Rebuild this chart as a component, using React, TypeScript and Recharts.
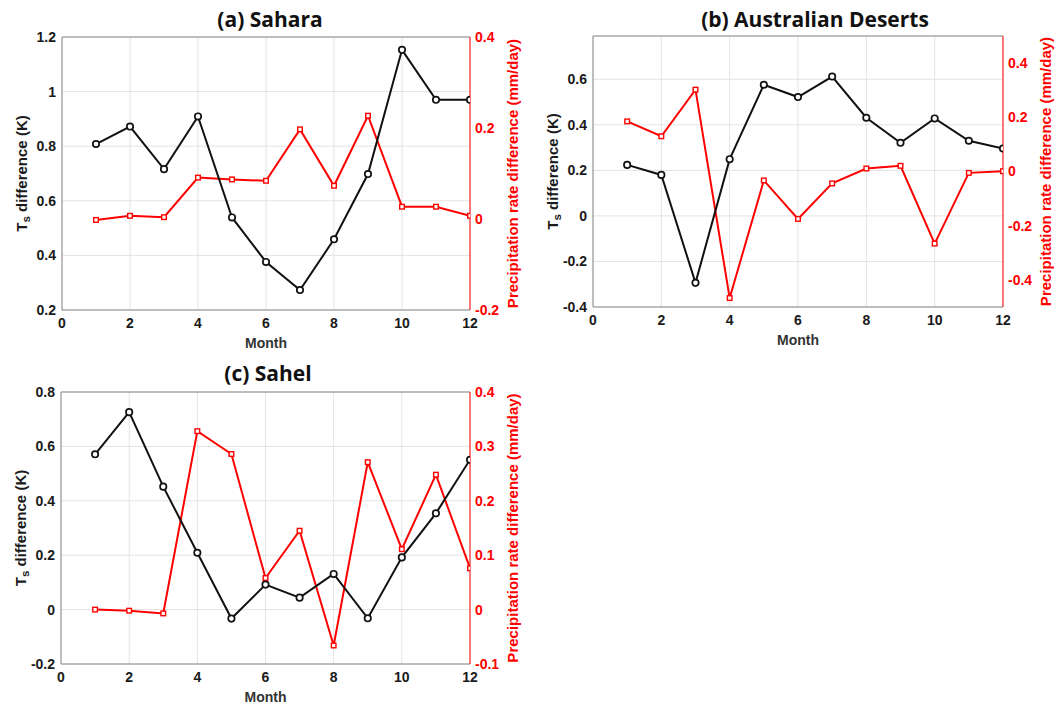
import React from 'react';
import { LineChart, Line, XAxis, YAxis, CartesianGrid, ReferenceLine } from 'recharts';

const months = [1, 2, 3, 4, 5, 6, 7, 8, 9, 10, 11, 12];
const monthTicks = [0, 2, 4, 6, 8, 10, 12];

const saharaTs = [0.808, 0.872, 0.716, 0.909, 0.539, 0.376, 0.273, 0.459, 0.698, 1.153, 0.97, 0.97];
const saharaPr = [-0.002, 0.007, 0.004, 0.091, 0.087, 0.084, 0.197, 0.073, 0.227, 0.027, 0.027, 0.007];

const ausTs = [0.224, 0.18, -0.294, 0.249, 0.576, 0.522, 0.612, 0.431, 0.321, 0.428, 0.33, 0.296];
const ausPr = [0.185, 0.13, 0.302, -0.467, -0.033, -0.175, -0.044, 0.011, 0.021, -0.266, -0.005, 0.001];

const sahelTs = [0.571, 0.726, 0.452, 0.209, -0.033, 0.092, 0.044, 0.131, -0.032, 0.192, 0.354, 0.551];
const sahelPr = [0.0, -0.002, -0.007, 0.328, 0.286, 0.058, 0.145, -0.066, 0.271, 0.111, 0.248, 0.076];

const saharaTsTicks = [0.2, 0.4, 0.6, 0.8, 1, 1.2];
const saharaPrTicks = [-0.2, 0, 0.2, 0.4];
const ausTsTicks = [-0.4, -0.2, 0, 0.2, 0.4, 0.6];
const ausPrTicks = [-0.4, -0.2, 0, 0.2, 0.4];
const sahelTsTicks = [-0.2, 0, 0.2, 0.4, 0.6, 0.8];
const sahelPrTicks = [-0.1, 0, 0.1, 0.2, 0.3, 0.4];

const AXIS_FONT = "'Liberation Sans', Arial, sans-serif";
const TITLE_FONT = "'Open Sans', 'Liberation Sans', sans-serif";
const RED = '#ff0000';
const BORDER = '#8a8a8a';

const RIGHT_W = 52;
const LEFT_W = 60;
const TOP_M = 10;
const XAXIS_H = 50;

const CircleDot = (props: any) => {
  const { cx, cy, index } = props;
  if (cx == null || cy == null) return <g key={index} />;
  return <circle key={`c${index}`} cx={cx} cy={cy} r={3.2} fill="#fff" stroke="#111" strokeWidth={1.7} />;
};

const SquareDot = (props: any) => {
  const { cx, cy, index } = props;
  if (cx == null || cy == null) return <g key={index} />;
  return <rect key={`s${index}`} x={cx - 2.3} y={cy - 2.3} width={4.6} height={4.6} fill="#fff" stroke={RED} strokeWidth={1.4} />;
};

const LeftLabel = (props: any) => {
  const vb = props.viewBox || {};
  const cx = vb.x + vb.width - 41;
  const cy = vb.y + vb.height / 2;
  return (
    <text
      x={cx}
      y={cy}
      transform={`rotate(-90 ${cx} ${cy})`}
      textAnchor="middle"
      dominantBaseline="central"
      fontFamily={AXIS_FONT}
      fontWeight="bold"
      fontSize={15}
      fill="#1a1a1a"
    >
      <tspan>T</tspan>
      <tspan fontSize={11.5} dy={5}>s</tspan>
      <tspan dy={-5}> difference (K)</tspan>
    </text>
  );
};

const RightLabel = (props: any) => {
  const vb = props.viewBox || {};
  const cx = vb.x + 42;
  const cy = vb.y + vb.height / 2;
  return (
    <text
      x={cx}
      y={cy}
      transform={`rotate(-90 ${cx} ${cy})`}
      textAnchor="middle"
      dominantBaseline="central"
      fontFamily={AXIS_FONT}
      fontWeight="bold"
      fontSize={15}
      fill={RED}
    >
      Precipitation rate difference (mm/day)
    </text>
  );
};

const MonthLabel = (props: any) => {
  const vb = props.viewBox || {};
  const cx = vb.x + vb.width / 2;
  const cy = vb.y + 33;
  return (
    <text
      x={cx}
      y={cy}
      textAnchor="middle"
      dominantBaseline="central"
      fontFamily={AXIS_FONT}
      fontWeight="bold"
      fontSize={14}
      fill="#333"
    >
      Month
    </text>
  );
};

type PanelProps = {
  title: string;
  plotLeft: number;
  plotRight: number;
  plotTop: number;
  plotBottom: number;
  titleX: number;
  titleY: number;
  ts: number[];
  pr: number[];
  tsDomain: [number, number];
  tsTicks: number[];
  prDomain: [number, number];
  prTicks: number[];
};

const Panel = (p: PanelProps) => {
  const plotW = p.plotRight - p.plotLeft;
  const plotH = p.plotBottom - p.plotTop;
  const width = plotW + LEFT_W + RIGHT_W;
  const height = plotH + TOP_M + XAXIS_H;
  const data = months.map((m, i) => ({ month: m, ts: p.ts[i], pr: p.pr[i] }));
  const tickStyle = { fill: '#1a1a1a', fontSize: 14, fontWeight: 'bold', fontFamily: AXIS_FONT };
  return (
    <>
      <div
        style={{
          position: 'absolute',
          left: p.titleX - 200,
          top: p.titleY - 15,
          width: 400,
          height: 30,
          lineHeight: '30px',
          textAlign: 'center',
          fontFamily: TITLE_FONT,
          fontWeight: 'bold',
          fontSize: 21,
          color: '#111',
        }}
      >
        {p.title}
      </div>
      <div style={{ position: 'absolute', left: p.plotLeft - LEFT_W, top: p.plotTop - TOP_M }}>
        <LineChart width={width} height={height} data={data} margin={{ top: TOP_M, right: 0, bottom: 0, left: 0 }}>
          <CartesianGrid stroke="#e3e3e3" strokeWidth={1} />
          <XAxis
            dataKey="month"
            type="number"
            domain={[0, 12]}
            ticks={monthTicks}
            allowDataOverflow
            height={XAXIS_H}
            tickLine={false}
            tickSize={0}
            tickMargin={8}
            axisLine={{ stroke: BORDER }}
            tick={tickStyle}
            label={<MonthLabel />}
          />
          <YAxis
            type="number"
            domain={p.tsDomain}
            ticks={p.tsTicks}
            allowDataOverflow
            width={LEFT_W}
            tickLine={false}
            tickSize={0}
            tickMargin={6}
            axisLine={{ stroke: BORDER }}
            tick={tickStyle}
            interval={0}
            label={<LeftLabel />}
          />
          <YAxis
            yAxisId="right"
            orientation="right"
            type="number"
            domain={p.prDomain}
            ticks={p.prTicks}
            allowDataOverflow
            width={RIGHT_W}
            tickLine={false}
            tickSize={0}
            tickMargin={5}
            axisLine={{ stroke: RED }}
            tick={{ ...tickStyle, fill: RED }}
            interval={0}
            label={<RightLabel />}
          />
          <ReferenceLine y={p.tsDomain[1]} stroke={BORDER} strokeWidth={1} />
          <Line
            yAxisId="right"
            dataKey="pr"
            stroke={RED}
            strokeWidth={2}
            dot={SquareDot}
            activeDot={false}
            isAnimationActive={false}
          />
          <Line
            dataKey="ts"
            stroke="#111"
            strokeWidth={2}
            dot={CircleDot}
            activeDot={false}
            isAnimationActive={false}
          />
        </LineChart>
      </div>
    </>
  );
};

export default function App() {
  return (
    <div style={{ position: 'absolute', left: 0, top: 0, width: 1057, height: 705, overflow: 'hidden', background: '#fff' }}>
      <Panel
        title="(a) Sahara"
        plotLeft={62}
        plotRight={470}
        plotTop={37}
        plotBottom={310}
        titleX={270}
        titleY={19}
        ts={saharaTs}
        pr={saharaPr}
        tsDomain={[0.2, 1.2]}
        tsTicks={saharaTsTicks}
        prDomain={[-0.2, 0.4]}
        prTicks={saharaPrTicks}
      />
      <Panel
        title="(b) Australian Deserts"
        plotLeft={593}
        plotRight={1003}
        plotTop={36}
        plotBottom={307}
        titleX={815}
        titleY={19}
        ts={ausTs}
        pr={ausPr}
        tsDomain={[-0.4, 0.79]}
        tsTicks={ausTsTicks}
        prDomain={[-0.5, 0.5]}
        prTicks={ausPrTicks}
      />
      <Panel
        title="(c) Sahel"
        plotLeft={61}
        plotRight={470}
        plotTop={392}
        plotBottom={664}
        titleX={268}
        titleY={373}
        ts={sahelTs}
        pr={sahelPr}
        tsDomain={[-0.2, 0.8]}
        tsTicks={sahelTsTicks}
        prDomain={[-0.1, 0.4]}
        prTicks={sahelPrTicks}
      />
    </div>
  );
}
